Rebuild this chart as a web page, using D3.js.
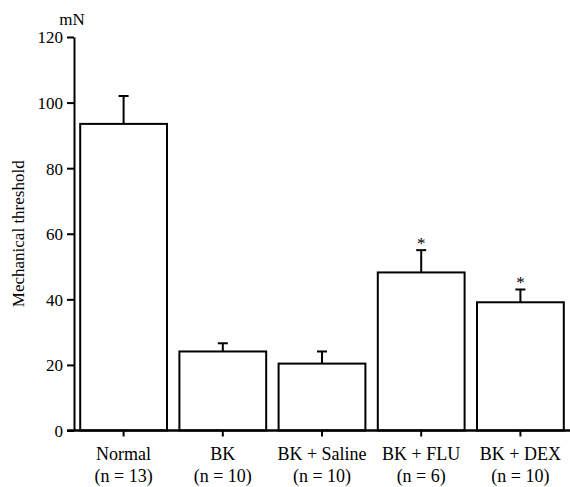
<!DOCTYPE html>
<html>
<head>
<meta charset="utf-8">
<script src="https://cdn.jsdelivr.net/npm/d3@7"></script>
<style>
  body { margin: 0; background: #fff; }
</style>
</head>
<body>
<svg id="drawing_region"></svg>
<script>
// data
const groups = ["Normal", "BK", "BK + Saline", "BK + FLU", "BK + DEX"];
const nLabels = ["(n = 13)", "(n = 10)", "(n = 10)", "(n = 6)", "(n = 10)"];
const means = [93.5, 24.1, 20.4, 48.2, 39.1];
const errs = [8.5, 2.5, 3.7, 6.8, 3.9];
const signif = [false, false, false, true, true];
const yTicks = [0, 20, 40, 60, 80, 100, 120];

const FONT = "'Liberation Serif', 'Times New Roman', Times, 'DejaVu Serif', serif";

const width = 570, height = 487;
const margin = { top: 37, right: 0, bottom: 56, left: 74 };

const svg = d3.select('#drawing_region')
    .attr('width', width)
    .attr('height', height)
    .style('font-family', FONT);

const innerH = height - margin.top - margin.bottom;

const yscale = d3.scaleLinear()
    .domain([0, 120])
    .range([margin.top + innerH - 0.5, margin.top]);

const xscale = d3.scaleBand()
    .domain(groups)
    .range([margin.left, width])
    .paddingInner(0.125)
    .paddingOuter(0.0625);

const data = groups.map((g, i) => ({ g: g, n: nLabels[i], v: means[i], e: errs[i], s: signif[i] }));

// bars
svg.append('g').selectAll('rect')
    .data(data)
    .join('rect')
    .attr('x', d => xscale(d.g))
    .attr('y', d => yscale(d.v))
    .attr('width', xscale.bandwidth())
    .attr('height', d => yscale(0) - yscale(d.v))
    .attr('fill', 'white')
    .attr('stroke', 'black')
    .attr('stroke-width', 2);

// error bars (upper only)
const eb = svg.append('g');
eb.selectAll('line.v')
    .data(data)
    .join('line')
    .attr('class', 'v')
    .attr('x1', d => xscale(d.g) + xscale.bandwidth() / 2)
    .attr('x2', d => xscale(d.g) + xscale.bandwidth() / 2)
    .attr('y1', d => yscale(d.v))
    .attr('y2', d => yscale(d.v + d.e))
    .attr('stroke', 'black')
    .attr('stroke-width', 2);
eb.selectAll('line.h')
    .data(data)
    .join('line')
    .attr('class', 'h')
    .attr('x1', d => xscale(d.g) + xscale.bandwidth() / 2 - 5)
    .attr('x2', d => xscale(d.g) + xscale.bandwidth() / 2 + 5)
    .attr('y1', d => yscale(d.v + d.e))
    .attr('y2', d => yscale(d.v + d.e))
    .attr('stroke', 'black')
    .attr('stroke-width', 2);

// significance stars
svg.append('g').selectAll('text')
    .data(data.filter(d => d.s))
    .join('text')
    .attr('x', d => xscale(d.g) + xscale.bandwidth() / 2)
    .attr('y', d => yscale(d.v + d.e) - 1)
    .attr('text-anchor', 'middle')
    .attr('font-family', FONT)
    .attr('font-size', '17px')
    .text('*');

// y axis
const yaxis = d3.axisLeft(yscale)
    .tickValues(yTicks)
    .tickSize(7)
    .tickSizeOuter(0)
    .tickPadding(4);
const yg = svg.append('g')
    .attr('transform', `translate(${margin.left},0)`)
    .call(yaxis)
    .attr('font-family', FONT)
    .attr('font-size', 17);
yg.select('.domain').attr('stroke-width', 2);
yg.selectAll('.tick line').attr('stroke-width', 2);
yg.selectAll('.tick text')
    .attr('font-family', FONT)
    .attr('font-size', '17px')
    .attr('dy', '0.35em');

// x axis
const xaxis = d3.axisBottom(xscale)
    .tickSize(6)
    .tickSizeOuter(0)
    .tickFormat('');
const xg = svg.append('g')
    .attr('transform', `translate(0,${yscale(0)})`)
    .call(xaxis);
xg.select('.domain').attr('stroke-width', 2.5).attr('d', `M${margin.left - 7},0H${width}`);
xg.selectAll('.tick line').attr('stroke-width', 2);

// category labels, two lines
const lab = svg.append('g').selectAll('text')
    .data(data)
    .join('text')
    .attr('x', d => xscale(d.g) + xscale.bandwidth() / 2)
    .attr('y', 460)
    .attr('text-anchor', 'middle')
    .attr('font-family', FONT)
    .attr('font-size', '18px');
lab.append('tspan').text(d => d.g);
lab.append('tspan')
    .attr('x', d => xscale(d.g) + xscale.bandwidth() / 2)
    .attr('dy', 22)
    .text(d => d.n);

// unit + axis title
svg.append('text')
    .attr('x', 72)
    .attr('y', 25)
    .attr('text-anchor', 'middle')
    .attr('font-family', FONT)
    .attr('font-size', '17px')
    .text('mN');

svg.append('text')
    .attr('transform', `translate(24,${(margin.top + yscale(0)) / 2}) rotate(-90)`)
    .attr('text-anchor', 'middle')
    .attr('font-family', FONT)
    .attr('font-size', '17px')
    .text('Mechanical threshold');
</script>
</body>
</html>
